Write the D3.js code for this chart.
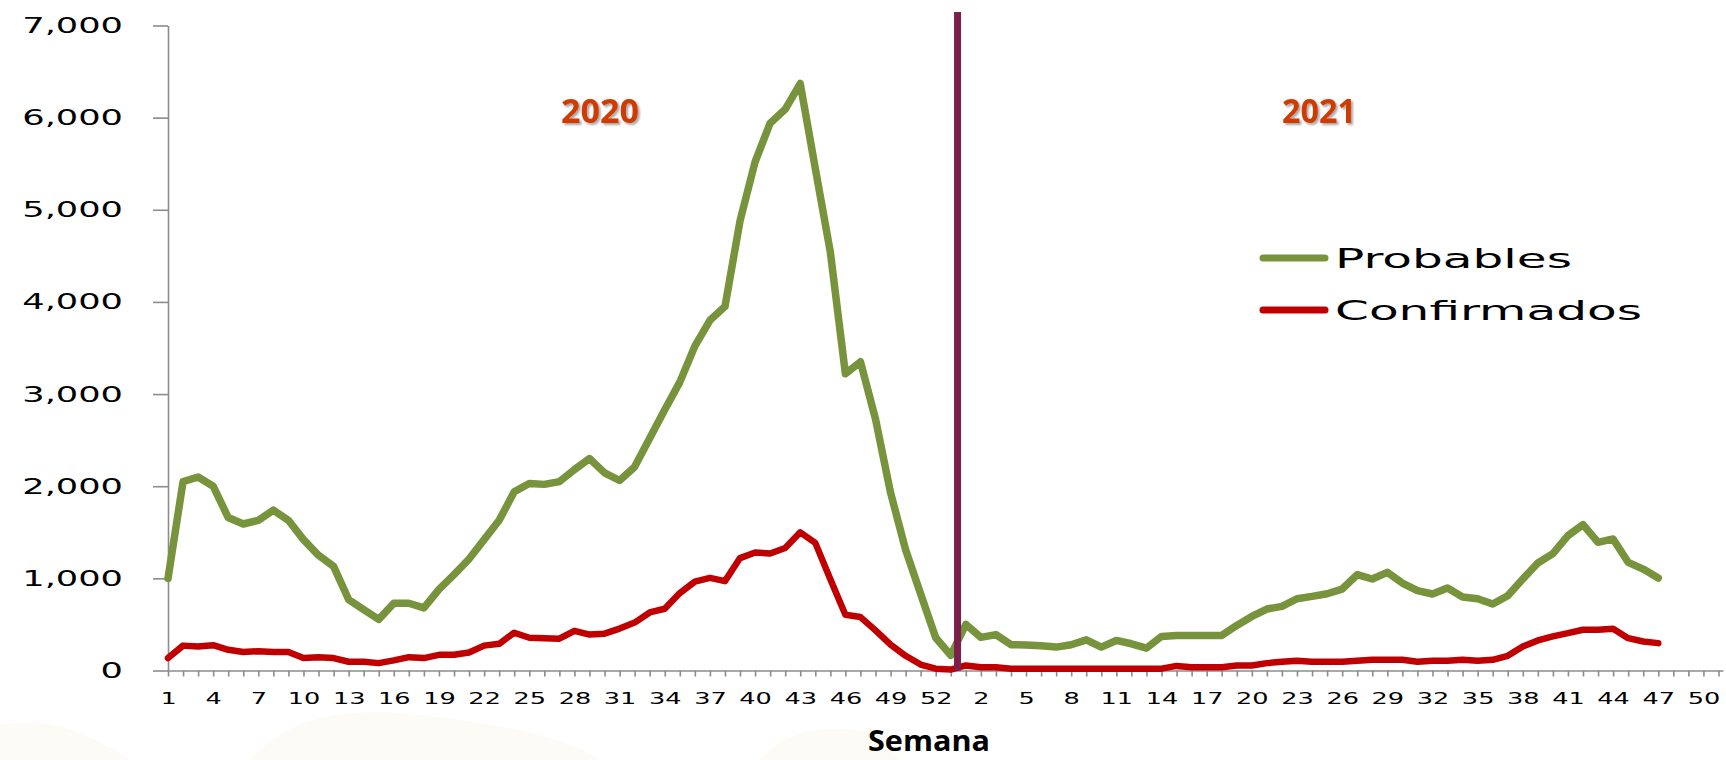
<!DOCTYPE html>
<html>
<head>
<meta charset="utf-8">
<script src="https://cdnjs.cloudflare.com/ajax/libs/d3/7.8.5/d3.min.js"></script>
<style>
  body { margin: 0; background: #ffffff; }
  svg { display: block; }
</style>
</head>
<body>
<div id="my_dataviz"></div>
<script>
// week categories (2020 has 53 weeks, 2021 axis runs to week 51)
var weeks2020 = [1,2,3,4,5,6,7,8,9,10,11,12,13,14,15,16,17,18,19,20,21,22,23,24,25,26,27,
                 28,29,30,31,32,33,34,35,36,37,38,39,40,41,42,43,44,45,46,47,48,49,50,51,52,53];
var weeks2021 = [1,2,3,4,5,6,7,8,9,10,11,12,13,14,15,16,17,18,19,20,21,22,23,24,25,26,
                 27,28,29,30,31,32,33,34,35,36,37,38,39,40,41,42,43,44,45,46,47,48,49,50,51];

// Probables
var probables2020 = [1000,2050,2100,2000,1660,1590,1630,1740,1630,1420,1250,1130,770,660,555,730,730,680,
                     880,1040,1210,1420,1630,1940,2030,2020,2050,2180,2300,2145,2062,2210,2520,2830,3130,
                     3520,3800,3950,4880,5520,5940,6090,6370,5450,4540,3220,3350,2730,1930,1310,830,355,165];
var probables2021 = [500,360,390,280,278,268,254,279,333,254,326,290,243,370,380,380,380,380,489,587,667,
                     696,779,804,833,884,1040,993,1065,949,866,830,895,797,779,721,812,993,1167,1268,1464,
                     1583,1391,1428,1174,1101,1004];

// Confirmados
var confirmados2020 = [135,270,260,275,225,200,210,200,200,135,145,135,95,95,80,110,145,135,170,170,195,270,
                       290,410,355,350,345,430,390,400,455,520,630,670,840,965,1005,970,1220,1280,1270,1330,
                       1500,1385,990,605,580,435,280,160,65,20,10];
var confirmados2021 = [55,35,35,20,20,18,18,18,18,18,18,18,18,20,50,36,36,36,54,54,80,94,105,94,94,94,105,
                       116,116,116,94,105,105,116,105,116,159,261,326,370,406,442,442,453,351,315,297];

var yTicks = [0,1000,2000,3000,4000,5000,6000,7000];
var seriesNames = ["Probables", "Confirmados"];
var seriesColors = ["#77933c", "#c00000"];
var yearLabels = ["2020", "2021"];

var width = 1726, height = 760;

var svg = d3.select("#my_dataviz")
    .append("svg")
    .attr("width", width)
    .attr("height", height);

// drop shadow for the year labels
var defs = svg.append("defs");
var f = defs.append("filter").attr("id", "shadow")
    .attr("x", "-20%").attr("y", "-20%").attr("width", "150%").attr("height", "150%");
f.append("feDropShadow").attr("dx", 2).attr("dy", 2).attr("stdDeviation", 1.2)
    .attr("flood-color", "#000").attr("flood-opacity", 0.35);

// faint watermark at the bottom
svg.append("path")
    .attr("d", "M0,725 Q60,712 130,760 L0,760 Z M250,760 Q300,700 420,715 Q560,730 600,760 Z M760,760 Q800,715 880,735 L900,760 Z")
    .attr("fill", "#fdfbf6");

var categories = weeks2020.concat(weeks2021);
var probables = probables2020.concat(probables2021);
var confirmados = confirmados2020.concat(confirmados2021);

// scales
var x = d3.scaleLinear()
    .domain([0, 103.3])
    .range([168, 1723]);
var y = d3.scaleLinear()
    .domain([0, 7000])
    .range([670.5, 25.5]);

function stretch(sel, k) {
    sel.each(function() {
        var len = this.getComputedTextLength();
        d3.select(this).attr("textLength", len * k).attr("lengthAdjust", "spacingAndGlyphs");
    });
}

// X axis
var xAxis = svg.append("g")
    .attr("transform", "translate(0," + y(0) + ")")
    .call(d3.axisBottom(x)
        .tickValues(d3.range(categories.length))
        .tickSize(6)
        .tickSizeOuter(0)
        .tickPadding(16)
        .tickFormat(function(i) { return i % 3 === 0 ? categories[i] : ""; }));
xAxis.selectAll("path, line").attr("stroke", "#8c8c8c").attr("stroke-width", 1.6);
xAxis.selectAll("text")
    .attr("fill", "#000")
    .style("font-family", "DejaVu Sans")
    .style("font-size", "16.5px")
    .call(stretch, 1.55);

// Y axis
var yAxis = svg.append("g")
    .attr("transform", "translate(" + x(0) + ",0)")
    .call(d3.axisLeft(y)
        .tickValues(yTicks)
        .tickSize(15)
        .tickSizeOuter(0)
        .tickPadding(30)
        .tickFormat(d3.format(",")));
yAxis.selectAll("path, line").attr("stroke", "#8c8c8c").attr("stroke-width", 1.6);
yAxis.selectAll("text")
    .attr("fill", "#000")
    .style("font-family", "DejaVu Sans")
    .style("font-size", "22px")
    .call(stretch, 1.6);

// lines
var line = d3.line()
    .x(function(d, i) { return x(i); })
    .y(function(d) { return y(d); });

svg.append("path")
    .datum(probables)
    .attr("d", line)
    .attr("fill", "none")
    .attr("stroke", seriesColors[0])
    .attr("stroke-width", 7.5)
    .attr("stroke-linejoin", "round")
    .attr("stroke-linecap", "round");

svg.append("path")
    .datum(confirmados)
    .attr("d", line)
    .attr("fill", "none")
    .attr("stroke", seriesColors[1])
    .attr("stroke-width", 6.5)
    .attr("stroke-linejoin", "round")
    .attr("stroke-linecap", "round");

// year divider between week 53 of 2020 and week 1 of 2021
svg.append("line")
    .attr("x1", x(52.45)).attr("x2", x(52.45))
    .attr("y1", 12).attr("y2", y(0))
    .attr("stroke", "#7b1f4b")
    .attr("stroke-width", 7);

// year labels
svg.selectAll(".year")
    .data(yearLabels)
    .enter()
    .append("text")
    .attr("class", "year")
    .attr("x", function(d, i) { return i === 0 ? 600 : 1319; })
    .attr("y", 123)
    .attr("text-anchor", "middle")
    .attr("fill", "#cf3a06")
    .attr("filter", "url(#shadow)")
    .style("font-family", "Open Sans")
    .style("font-weight", "bold")
    .style("font-size", "34px")
    .attr("textLength", function(d, i) { return i === 0 ? 78 : 74; })
    .attr("lengthAdjust", "spacingAndGlyphs")
    .text(function(d) { return d; });

// legend
var legend = svg.selectAll(".legend")
    .data(seriesNames)
    .enter()
    .append("g")
    .attr("class", "legend")
    .attr("transform", function(d, i) { return "translate(0," + (258 + i * 52) + ")"; });

legend.append("line")
    .attr("x1", 1263).attr("x2", 1325)
    .attr("y1", 0).attr("y2", 0)
    .attr("stroke", function(d, i) { return seriesColors[i]; })
    .attr("stroke-width", 7)
    .attr("stroke-linecap", "round");

legend.append("text")
    .attr("x", 1335)
    .attr("y", 10)
    .attr("fill", "#000")
    .style("font-family", "DejaVu Sans")
    .style("font-size", "27px")
    .attr("textLength", function(d, i) { return i === 0 ? 237 : 307; })
    .attr("lengthAdjust", "spacingAndGlyphs")
    .text(function(d) { return d; });

// X axis title
svg.append("text")
    .attr("x", 929)
    .attr("y", 751)
    .attr("text-anchor", "middle")
    .attr("fill", "#000")
    .style("font-family", "Open Sans")
    .style("font-weight", "bold")
    .style("font-size", "29px")
    .attr("textLength", 122)
    .attr("lengthAdjust", "spacingAndGlyphs")
    .text("Semana");
</script>
</body>
</html>
